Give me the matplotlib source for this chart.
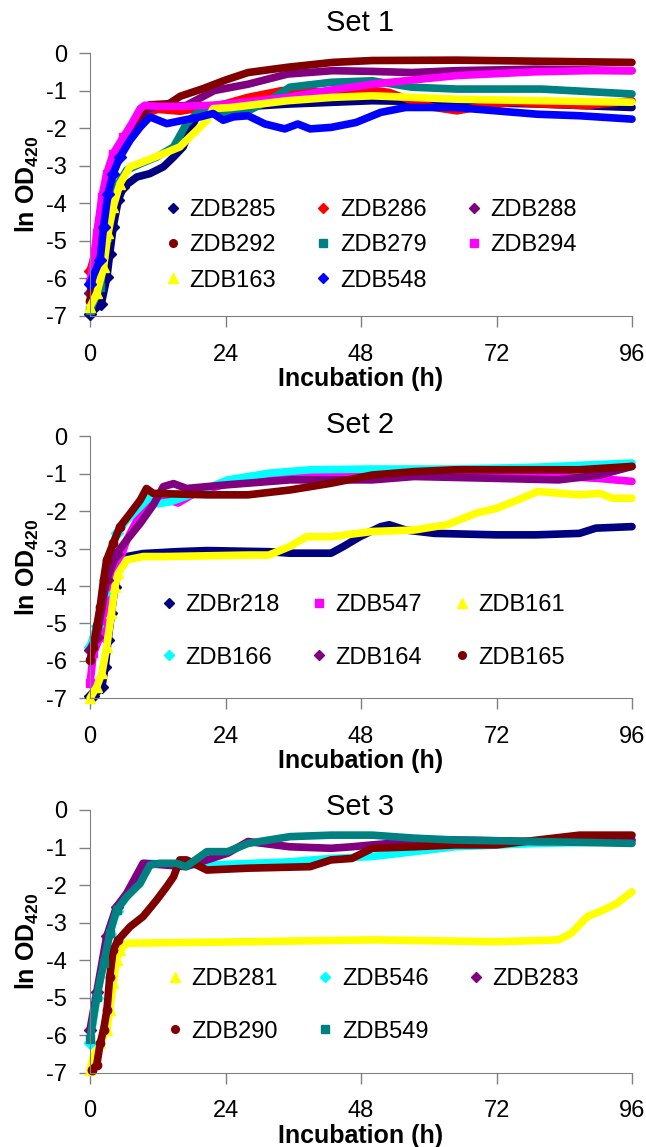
import matplotlib.pyplot as plt
from matplotlib.lines import Line2D

plt.rcParams['font.family'] = ['Liberation Sans', 'DejaVu Sans']
plt.rcParams['axes.unicode_minus'] = False
plt.rcParams['mathtext.fontset'] = 'custom'
plt.rcParams['mathtext.rm'] = 'Liberation Sans'
plt.rcParams['mathtext.bf'] = 'Liberation Sans:bold'

# colours / markers (Excel style)
navy, red, purple, maroon = '#000080', '#FF0000', '#800080', '#800000'
teal, magenta, yellow, blue, cyan = '#008080', '#FF00FF', '#FFFF00', '#0000FF', '#00FFFF'

# ---- Set 1 ----
t285 = [0, 2, 3, 3.5, 4.1, 5, 5.9, 8.3, 10.6, 13, 14.8, 16.5, 17.7, 18.9, 20.7, 25, 35, 50, 65, 80, 96]
y285 = [-6.94, -6.67, -5.96, -5.34, -4.63, -3.92, -3.57, -3.3, -3.21, -3.03, -2.77, -2.5, -2.06, -1.70,
        -1.53, -1.45, -1.36, -1.27, -1.31, -1.36, -1.45]
t286 = [0, 1, 2, 3, 4, 6, 8, 10, 12, 16, 20, 24, 28, 34, 43, 50, 53, 57, 61, 65, 70, 75, 80, 88, 96]
y286 = [-5.8, -5.3, -4.5, -3.6, -3.0, -2.4, -2.0, -1.6, -1.5, -1.55, -1.45, -1.35, -1.18, -1.0, -1.05,
        -0.99, -1.05, -1.27, -1.45, -1.54, -1.4, -1.31, -1.36, -1.4, -1.27]
t288 = [0, 1, 2, 3, 4, 6, 8, 10, 12, 17, 22, 28, 35, 43, 50, 57, 65, 79, 96]
y288 = [-6.4, -5.5, -4.4, -3.5, -2.9, -2.35, -1.9, -1.5, -1.42, -1.4, -1.0, -0.83, -0.56, -0.47, -0.49,
        -0.52, -0.47, -0.43, -0.47]
t292 = [0, 1, 2, 3, 4, 6, 8, 9.5, 10.5, 14, 16, 20, 24, 28, 35, 43, 50, 65, 80, 96]
y292 = [-6.6, -5.4, -4.3, -3.4, -2.8, -2.3, -1.85, -1.55, -1.38, -1.35, -1.15, -0.95, -0.72, -0.52, -0.38,
        -0.25, -0.2, -0.19, -0.22, -0.25]
t279 = [0, 1.8, 3, 3.8, 5, 6.5, 8.9, 11.8, 14.8, 17.1, 18.9, 21, 25, 28, 31.7, 35.4, 42.7, 50, 57, 65, 72, 80, 96]
y279 = [-6.85, -6.23, -4.9, -4.1, -3.48, -3.12, -2.95, -2.77, -2.5, -1.88, -1.61, -1.53, -1.6, -1.54, -1.27,
        -0.91, -0.78, -0.74, -0.91, -0.96, -0.96, -0.96, -1.09]
t294 = [0, 0.3, 1.2, 2.1, 2.95, 4.1, 5.9, 7.4, 8.9, 9.7, 12, 16, 20, 23, 28, 35, 42, 50, 57, 65, 72, 79, 88, 96]
y294 = [-6.1, -5.87, -4.8, -3.83, -3.21, -2.68, -2.24, -1.88, -1.48, -1.39, -1.42, -1.42, -1.4, -1.38, -1.3,
        -1.18, -1.0, -0.83, -0.72, -0.6, -0.55, -0.5, -0.47, -0.47]
t163 = [0, 1.2, 2.4, 3.2, 4.1, 5.3, 7.1, 10, 13, 15.9, 17.1, 18.9, 20.7, 21.8, 25, 35, 43, 50, 57, 65, 80, 96]
y163 = [-6.76, -6.4, -5.7, -4.8, -4.1, -3.48, -3.03, -2.86, -2.68, -2.5, -2.32, -2.06, -1.79, -1.48, -1.45,
        -1.27, -1.18, -1.14, -1.18, -1.23, -1.27, -1.31]
t548 = [0, 1.8, 2.4, 3.2, 4.1, 5.3, 7.1, 8.9, 10.6, 13.6, 16.5, 19.5, 21.8, 23.6, 25.4, 28, 31, 34.5, 36.8,
        39, 42.7, 47.1, 51.5, 55.9, 64.7, 72, 79.3, 86.7, 96]
y548 = [-6.14, -5.5, -4.63, -3.74, -3.21, -2.77, -2.32, -1.97, -1.70, -1.88, -1.79, -1.7, -1.61, -1.79, -1.70,
        -1.67, -1.89, -2.02, -1.89, -2.02, -1.98, -1.85, -1.58, -1.45, -1.45, -1.54, -1.63, -1.67, -1.76]

# ---- Set 2 ----
t218 = [0, 0.6, 2.1, 2.7, 3.2, 3.8, 4.4, 5.3, 6.5, 9.4, 15.3, 20.7, 31.7, 35.4, 42.7, 44.9, 47.8, 51.5, 53,
        55.9, 61, 72, 79, 86.7, 89.6, 96]
y218 = [-6.95, -6.95, -6.69, -6.15, -5.44, -4.73, -4.02, -3.39, -3.21, -3.13, -3.08, -3.05, -3.08, -3.12,
        -3.12, -2.94, -2.68, -2.41, -2.36, -2.5, -2.59, -2.63, -2.63, -2.59, -2.45, -2.41]
t547 = [0, 0.6, 1.8, 2.95, 4.1, 5.3, 6.5, 8.3, 10, 11.2, 13, 15.6, 18.5, 24.4, 31.7, 39, 50, 64.7, 79, 90, 96]
y547 = [-6.6, -5.8, -5.35, -4.9, -4.02, -3.3, -2.77, -2.24, -1.79, -1.61, -1.65, -1.78, -1.52, -1.25, -1.07,
        -0.98, -0.94, -0.94, -1.03, -1.12, -1.2]
t161 = [0, 1.2, 2.1, 2.95, 3.8, 4.4, 5, 6.5, 9.4, 13.4, 28, 31.7, 35.4, 38.3, 42.7, 50, 57.4, 63.2, 68.4,
        72, 75.7, 79.3, 86.7, 90.3, 92.5, 96]
y161 = [-7.0, -6.69, -6.33, -5.62, -4.73, -4.02, -3.66, -3.3, -3.21, -3.21, -3.17, -3.17, -2.94, -2.68,
        -2.68, -2.54, -2.5, -2.36, -2.05, -1.92, -1.7, -1.47, -1.56, -1.52, -1.65, -1.65]
t166 = [0, 1.2, 2.4, 3.5, 4.7, 6.5, 8.9, 10.6, 12, 14.2, 18.5, 24.4, 31.7, 39, 50, 64.7, 79.3, 96]
y166 = [-5.62, -5.08, -4.19, -3.21, -2.59, -2.24, -1.88, -1.61, -1.8, -1.75, -1.52, -1.16, -0.98, -0.89,
        -0.87, -0.87, -0.82, -0.71]
t164 = [0, 1.2, 2.95, 4.7, 6.5, 8.9, 11.2, 13, 14.8, 17.1, 24.4, 35.4, 50, 57.4, 72, 83, 90.3, 96]
y164 = [-5.7, -5.35, -3.84, -3.13, -2.77, -2.32, -1.83, -1.34, -1.26, -1.39, -1.29, -1.16, -1.16, -1.07,
        -1.12, -1.16, -1.03, -0.8]
t165 = [0, 0.6, 1.2, 1.8, 2.4, 2.95, 4.1, 5.3, 7.1, 8.9, 10, 11.2, 20.7, 28, 35.4, 42.7, 50, 57.4, 64.7,
        72, 79.3, 86.7, 96]
y165 = [-5.97, -5.62, -5.08, -4.55, -3.84, -3.3, -2.86, -2.41, -2.06, -1.70, -1.39, -1.52, -1.56, -1.56,
        -1.43, -1.25, -1.03, -0.94, -0.89, -0.89, -0.89, -0.89, -0.8]

# ---- Set 3 ----
t281 = [0, 0.6, 1.8, 3, 3.5, 4.1, 4.7, 5.3, 6.5, 28, 50, 72, 83, 85.2, 88.1, 91, 93.3, 96]
y281 = [-6.93, -6.57, -6.22, -5.86, -5.33, -4.62, -4.0, -3.73, -3.55, -3.51, -3.46, -3.51, -3.46, -3.29,
        -2.84, -2.66, -2.49, -2.18]
t546 = [0, 1.2, 2.4, 3.5, 4.7, 6.5, 8.9, 9.7, 20.7, 35.4, 42.7, 50, 57.4, 64.7, 79.3, 96]
y546 = [-6.2, -5.0, -4.1, -3.3, -2.7, -2.3, -1.95, -1.42, -1.47, -1.38, -1.29, -1.24, -1.11, -0.98, -0.89, -0.84]
t283 = [0, 1.2, 2.95, 4.7, 6.5, 9.4, 17, 24.4, 28, 35.4, 42.7, 46.4, 50, 57.4, 64.7, 79.3, 96]
y283 = [-5.86, -4.85, -3.37, -2.58, -2.22, -1.42, -1.51, -1.15, -0.84, -0.98, -1.02, -0.98, -0.93, -0.84,
        -0.8, -0.84, -0.8]
t290 = [0.3, 1.2, 1.8, 2.4, 3, 3.5, 4.1, 5, 7.1, 9.4, 11.8, 13.6, 14.8, 15.9, 17.1, 19.5, 20.7, 28, 39,
        42.7, 46.4, 50, 57.4, 64.7, 72, 79.3, 86.7, 96]
y290 = [-6.93, -6.79, -6.22, -5.86, -5.33, -4.44, -3.73, -3.46, -3.11, -2.84, -2.4, -2.04, -1.78, -1.33,
        -1.33, -1.51, -1.6, -1.55, -1.51, -1.33, -1.29, -1.02, -0.98, -0.93, -0.93, -0.8, -0.67, -0.67]
t549 = [0, 1.2, 2.4, 3.5, 4.7, 6.5, 8.9, 10.6, 12.4, 15.3, 17, 20.7, 24.4, 28, 35.4, 42.7, 50, 57.4, 64.7,
        79.3, 96]
y549 = [-6.1, -4.97, -4.09, -3.29, -2.66, -2.31, -1.95, -1.47, -1.42, -1.42, -1.51, -1.11, -1.11, -0.89,
        -0.71, -0.67, -0.67, -0.75, -0.8, -0.84, -0.89]

sets = [
    ("Set 1", [("ZDB285", t285, y285, navy, 'D'), ("ZDB286", t286, y286, red, 'D'),
               ("ZDB288", t288, y288, purple, 'D'), ("ZDB292", t292, y292, maroon, 'o'),
               ("ZDB279", t279, y279, teal, 's'), ("ZDB294", t294, y294, magenta, 's'),
               ("ZDB163", t163, y163, yellow, '^'), ("ZDB548", t548, y548, blue, 'D')]),
    ("Set 2", [("ZDBr218", t218, y218, navy, 'D'), ("ZDB547", t547, y547, magenta, 's'),
               ("ZDB161", t161, y161, yellow, '^'), ("ZDB166", t166, y166, cyan, 'D'),
               ("ZDB164", t164, y164, purple, 'D'), ("ZDB165", t165, y165, maroon, 'o')]),
    ("Set 3", [("ZDB281", t281, y281, yellow, '^'), ("ZDB546", t546, y546, cyan, 'D'),
               ("ZDB283", t283, y283, purple, 'D'), ("ZDB290", t290, y290, maroon, 'o'),
               ("ZDB549", t549, y549, teal, 's')]),
]

W, H = 646, 1147
fig = plt.figure(figsize=(W / 100, H / 100), dpi=100)

# pixel layout: (axis top, axis bottom, title baseline, legend marker x, legend row1 y, row pitch, colspacing)
layout = [(53, 316, 31, 173, 210, 35.5, 1.7),
          (436.5, 698.3, 433, 169, 605, 53, 1.36),
          (810, 1072.7, 815, 175, 979, 53, 1.7)]

fs = 17
fpx = fs * 100 / 72
for (title, series), (top, bot, tb, lx, ly, pitch, cs) in zip(sets, layout):
    ax = fig.add_axes([90 / W, 1 - bot / H, 542 / W, (bot - top) / H])
    for name, t, y, c, m in series:
        ms = 7 if m == '^' else 6
        early = [i for i, v in enumerate(t) if v <= 6]
        ax.plot(t, y, color=c, lw=5.5, marker=m, ms=ms, mec=c, markevery=early,
                solid_capstyle='round', clip_on=False)
    ax.set_xlim(0, 96)
    ax.set_ylim(-7, 0)
    ax.set_xticks([0, 24, 48, 72, 96])
    ax.set_yticks(range(-7, 1))
    for s in ['top', 'right']:
        ax.spines[s].set_visible(False)
    for s in ['left', 'bottom']:
        ax.spines[s].set_color('#808080')
    ax.tick_params(axis='both', colors='#808080', labelcolor='black', labelsize=fs, length=8, width=1)
    ax.tick_params(axis='x', pad=12)
    ax.tick_params(axis='y', pad=8.5)
    ax.set_xlabel("Incubation (h)", fontsize=18, fontweight='bold', labelpad=1)
    ax.set_ylabel("ln OD$_{\\mathbf{420}}$", fontsize=18, fontweight='bold', labelpad=4)
    fig.text(360 / W, 1 - tb / H, title, fontsize=21, ha='center', va='baseline')

    # legend, Excel fills rows first -> reorder for column-first filling
    n = len(series)
    ncol = 3
    nrow = -(-n // ncol)
    order = []
    for col in range(ncol):
        for row in range(nrow):
            i = row * ncol + col
            if i < n:
                order.append(i)
    handles = [Line2D([], [], color=series[i][3], marker=series[i][4], ls='none',
                      ms=7 if series[i][4] == '^' else 5.5) for i in order]
    labels = [series[i][0] for i in order]
    row_h = 0.94 * fpx
    lsp = (pitch - row_h) / fpx
    fig.legend(handles, labels, ncol=ncol, frameon=False, fontsize=fs, loc='upper left',
               bbox_to_anchor=((lx - 7) / W, 1 - (ly - row_h / 2) / H),
               borderpad=0, borderaxespad=0, handlelength=0.6, handletextpad=0.4,
               labelspacing=lsp, columnspacing=cs)

fig.savefig("out.png", dpi=100)
